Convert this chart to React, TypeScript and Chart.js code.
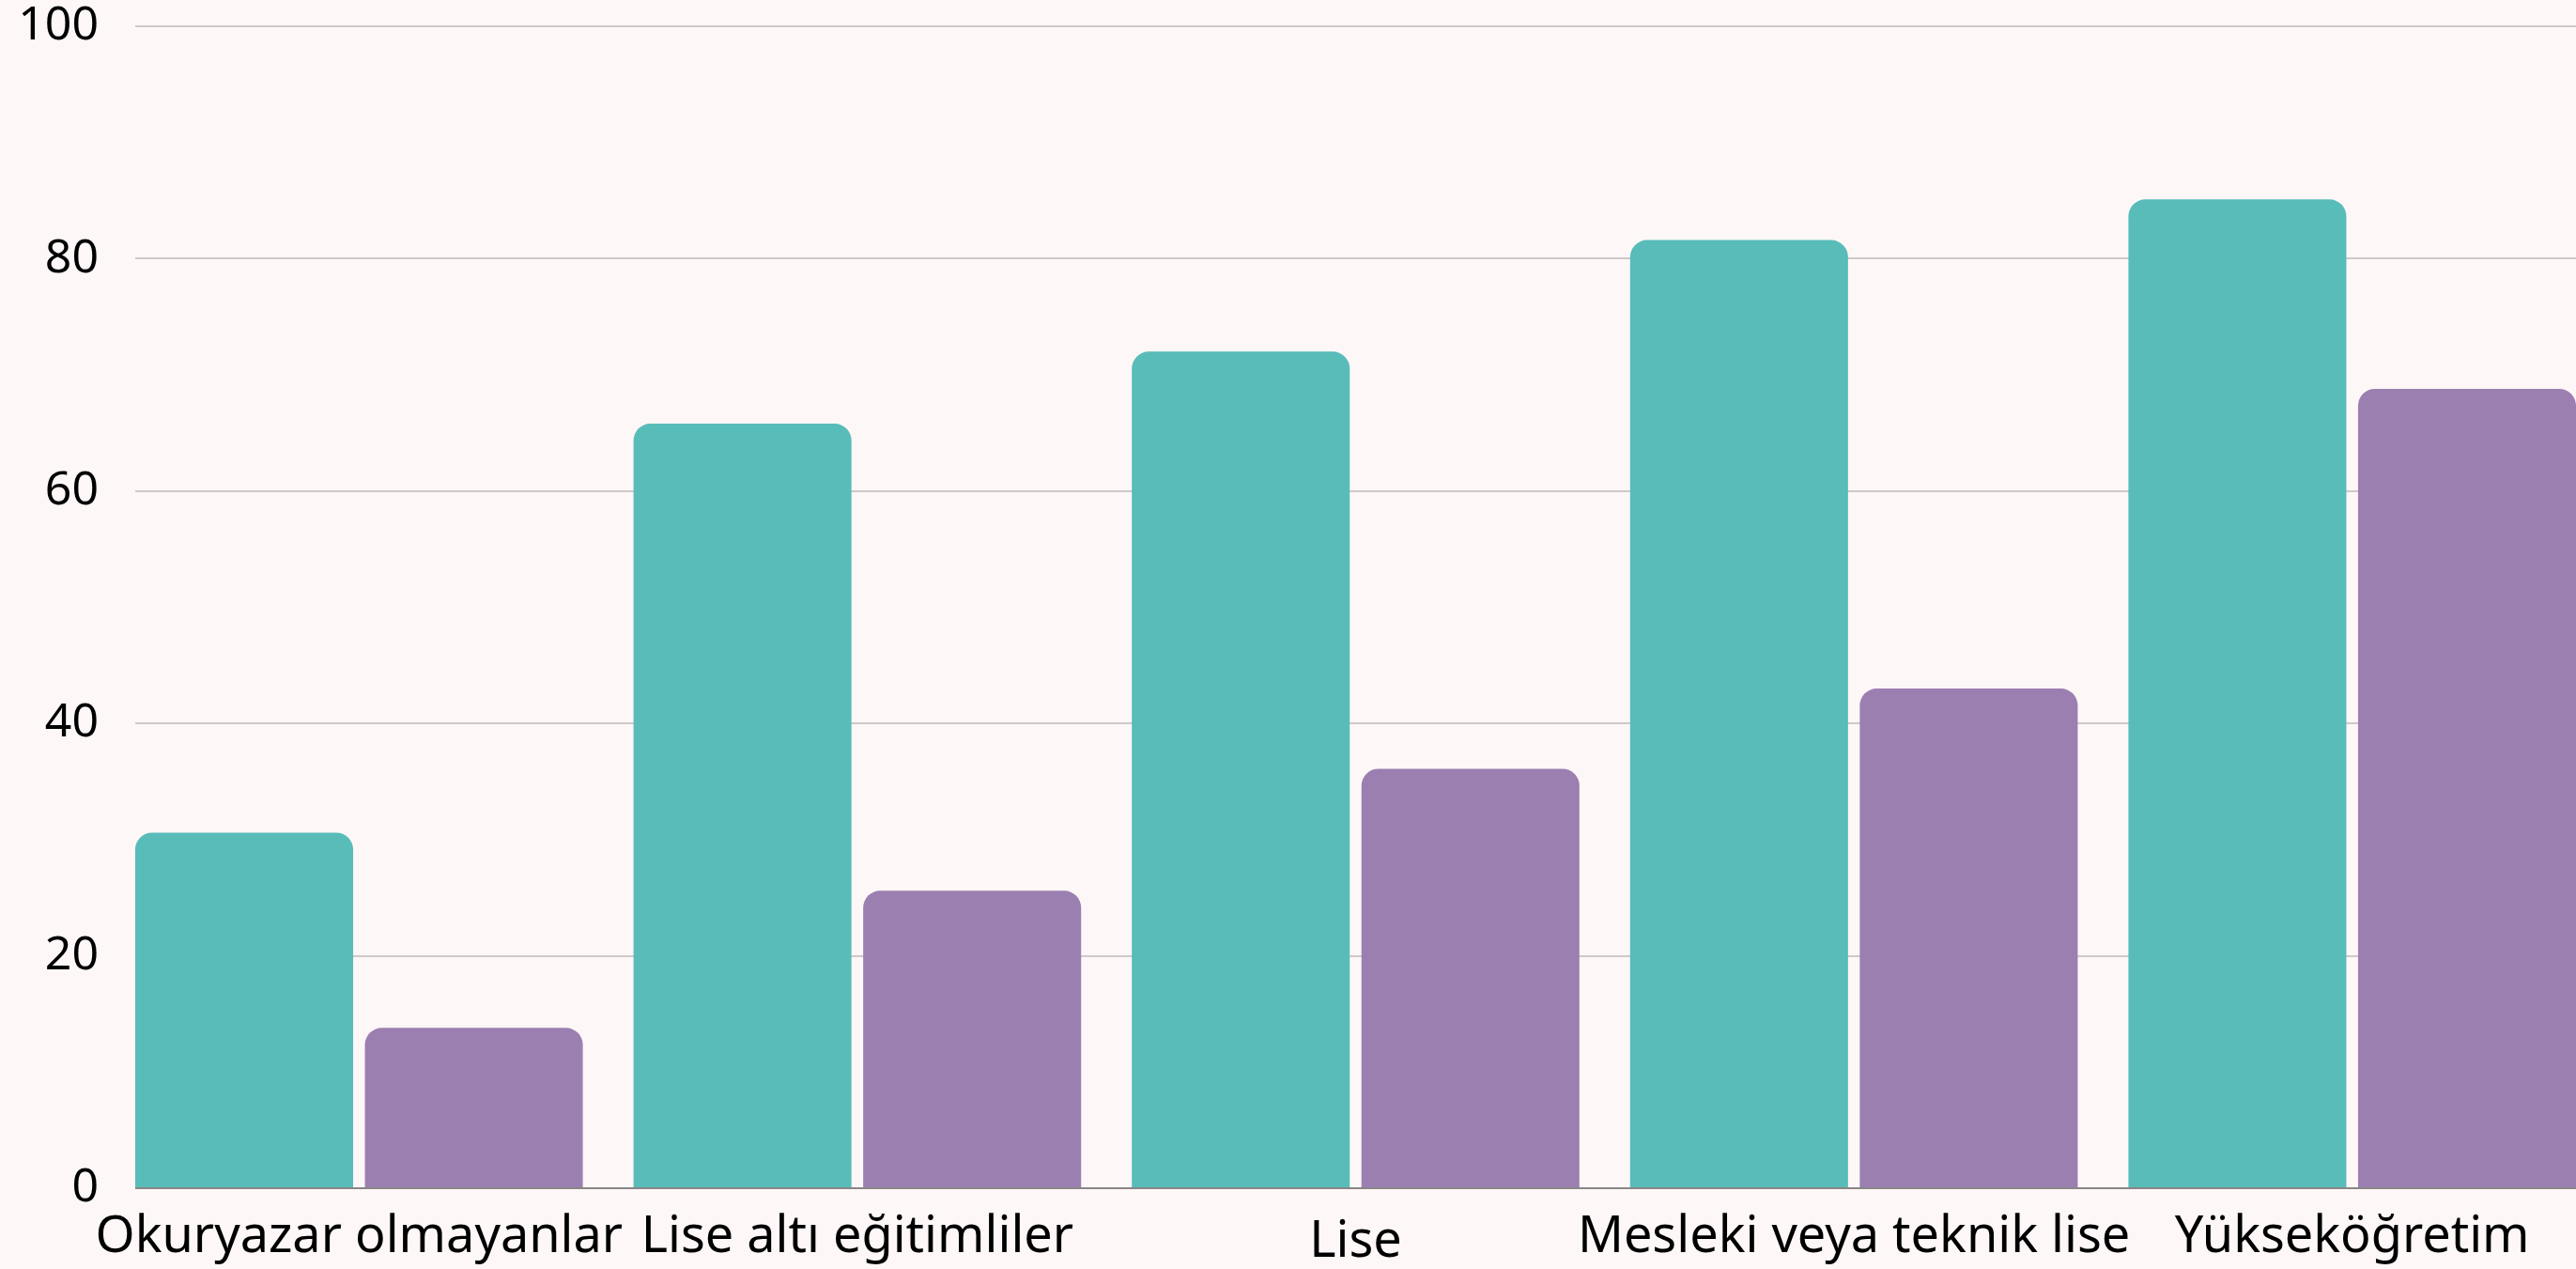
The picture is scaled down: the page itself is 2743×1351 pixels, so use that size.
import React, { useEffect, useRef } from "react";
import { Chart, registerables } from "chart.js";

Chart.register(...registerables);

const categories = [
  "Okuryazar olmayanlar",
  "Lise altı eğitimliler",
  "Lise",
  "Mesleki veya teknik lise",
  "Yükseköğretim",
];
const seriesTeal = [30.6, 65.8, 72.0, 81.6, 85.1];
const seriesPurple = [13.8, 25.6, 36.1, 43.0, 68.8];
const yTicks = [0, 20, 40, 60, 80, 100];

const FONT = "'Noto Sans', sans-serif";
const BG = "#fdf7f7";

export default function App() {
  const ref = useRef<HTMLCanvasElement | null>(null);

  useEffect(() => {
    document.body.style.margin = "0";
    document.body.style.background = BG;
    const canvas = ref.current;
    if (!canvas) return;
    const barStyle = {
      borderRadius: { topLeft: 18, topRight: 18, bottomLeft: 0, bottomRight: 0 },
      borderSkipped: "start" as const,
      categoryPercentage: 0.9218,
      barPercentage: 0.9489,
    };
    const chart = new Chart(canvas, {
      type: "bar",
      data: {
        datasets: [
          {
            label: "A",
            data: seriesTeal.map((v, i) => ({ x: i, y: v })),
            backgroundColor: "#58bcb9",
            ...barStyle,
          },
          {
            label: "B",
            data: seriesPurple.map((v, i) => ({ x: i, y: v })),
            backgroundColor: "#9c7fb1",
            ...barStyle,
          },
        ],
      },
      options: {
        animation: false,
        responsive: true,
        maintainAspectRatio: false,
        layout: { padding: { top: 28, left: 0, right: 0, bottom: 0 } },
        plugins: {
          legend: { display: false },
          tooltip: { enabled: false },
        },
        scales: {
          x: {
            type: "linear",
            bounds: "data",
            offset: false,
            min: -0.4491,
            max: categories.length - 1 + 0.4491,
            grid: { display: false, drawTicks: false },
            border: { display: false },
            afterBuildTicks: (axis: any) => {
              axis.ticks = categories.map((_, i) => ({ value: i }));
            },
            afterFit: (scale: any) => {
              scale.height = 86;
              scale.paddingLeft = 0;
              scale.paddingRight = 0;
            },
            ticks: {
              autoSkip: false,
              maxRotation: 0,
              minRotation: 0,
              includeBounds: false,
              padding: 23,
              color: "#000000",
              font: (ctx: any) => ({
                family: FONT,
                size: 54,
                lineHeight: ctx.index === 2 ? 1.3 : 1.1,
              }),
              callback: (v: any) => categories[v as number] ?? "",
            },
          },
          y: {
            min: 0,
            max: 100,
            afterBuildTicks: (axis: any) => {
              axis.ticks = yTicks.map((v) => ({ value: v }));
            },
            afterFit: (scale: any) => {
              scale.width = 144;
              scale.paddingTop = 0;
              scale.paddingBottom = 0;
            },
            grid: {
              drawTicks: false,
              lineWidth: 2,
              color: (ctx: any) => (ctx.tick && ctx.tick.value === 0 ? "#8a8686" : "#cfc8c8"),
            },
            border: { display: false },
            ticks: {
              padding: 39,
              color: "#000000",
              font: { family: FONT, size: 50, lineHeight: 1.1 },
            },
          },
        },
      },
    });
    return () => chart.destroy();
  }, []);

  return (
    <div style={{ width: 2743, height: 1351, position: "relative", background: BG }}>
      <canvas ref={ref} />
    </div>
  );
}
